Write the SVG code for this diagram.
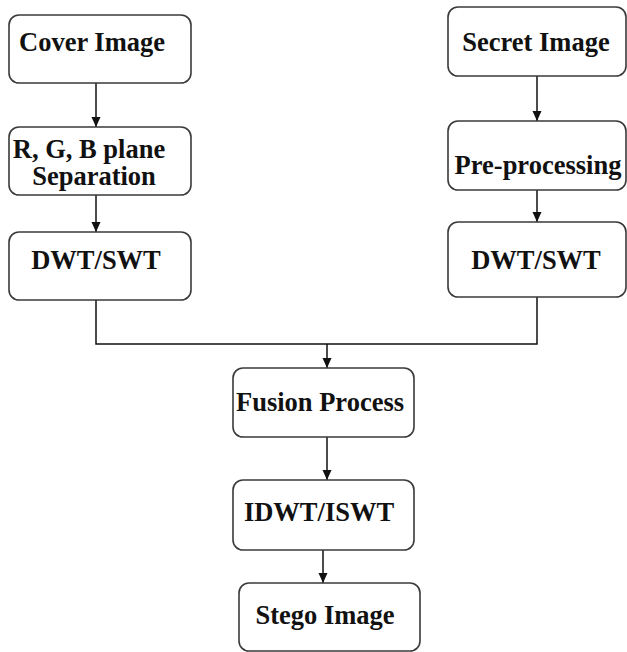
<svg xmlns="http://www.w3.org/2000/svg" width="627" height="652" viewBox="0 0 627 652">
<style>
.box{fill:#fff;stroke:#3a3a3a;stroke-width:1.6}
.t{font-family:"Liberation Serif","Times New Roman",serif;font-weight:bold;font-size:26.5px;fill:#111;text-anchor:middle}
.c{fill:none;stroke:#111;stroke-width:1.5}
</style>
<defs>
<marker id="ah" markerWidth="10" markerHeight="12" refX="10" refY="5" orient="auto" markerUnits="userSpaceOnUse">
<path d="M0,0.5 L10,5 L0,9.5 Z" fill="#111"/>
</marker>
</defs>
<rect width="627" height="652" fill="#fff"/>
<g id="connectors">
<line class="c" x1="96" y1="83" x2="96" y2="127" marker-end="url(#ah)"/>
<line class="c" x1="96" y1="195" x2="96" y2="232" marker-end="url(#ah)"/>
<polyline class="c" points="96,300 96,344 537,344 537,297"/>
<line class="c" x1="537" y1="76" x2="537" y2="121" marker-end="url(#ah)"/>
<line class="c" x1="537" y1="190" x2="537" y2="222" marker-end="url(#ah)"/>
<line class="c" x1="327" y1="344" x2="327" y2="368" marker-end="url(#ah)"/>
<line class="c" x1="327" y1="437" x2="327" y2="480" marker-end="url(#ah)"/>
<line class="c" x1="323" y1="550" x2="323" y2="583" marker-end="url(#ah)"/>
</g>
<g id="cover"><rect class="box" x="9" y="15" width="182" height="68" rx="10"/><text class="t" x="92" y="51">Cover Image</text></g>
<g id="rgb"><rect class="box" x="9" y="127" width="182" height="68" rx="10"/><text class="t" x="89" y="158">R, G, B plane</text><text class="t" x="94" y="185">Separation</text></g>
<g id="dwt1"><rect class="box" x="9" y="232" width="182" height="68" rx="10"/><text class="t" x="96" y="269">DWT/SWT</text></g>
<g id="secret"><rect class="box" x="448" y="7" width="178" height="69" rx="10"/><text class="t" x="536" y="51">Secret Image</text></g>
<g id="pre"><rect class="box" x="448" y="121" width="178" height="69" rx="10"/><text class="t" x="538" y="174">Pre-processing</text></g>
<g id="dwt2"><rect class="box" x="448" y="222" width="178" height="75" rx="10"/><text class="t" x="536" y="269">DWT/SWT</text></g>
<g id="fusion"><rect class="box" x="233" y="368" width="181" height="69" rx="10"/><text class="t" x="320" y="411">Fusion Process</text></g>
<g id="idwt"><rect class="box" x="233" y="480" width="181" height="70" rx="10"/><text class="t" x="319" y="521">IDWT/ISWT</text></g>
<g id="stego"><rect class="box" x="239" y="583" width="181" height="68" rx="10"/><text class="t" x="325" y="624">Stego Image</text></g>
</svg>
